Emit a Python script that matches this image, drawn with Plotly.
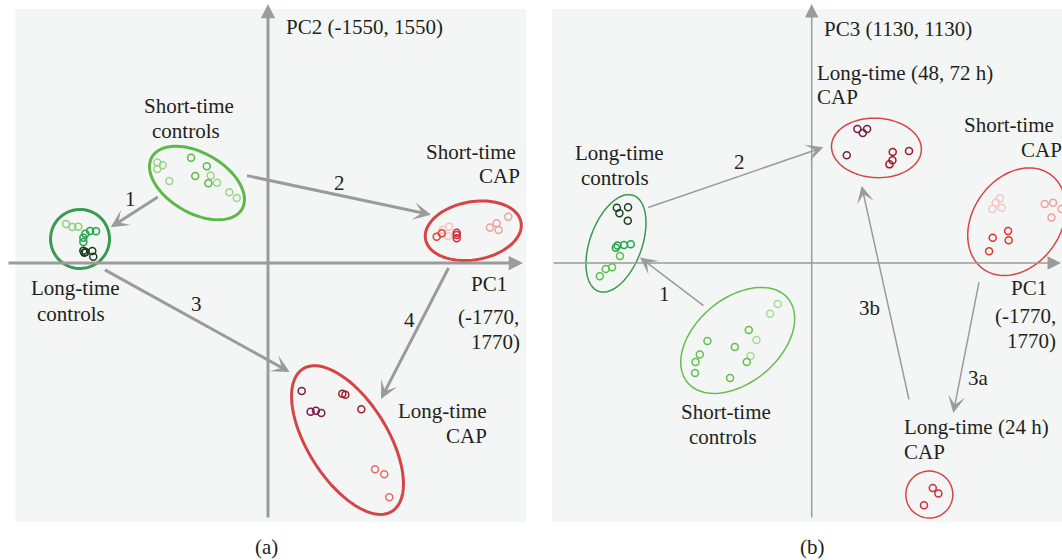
import numpy as np
import plotly.graph_objects as go

W, H = 1062, 560
GRAY = "#9b9b9b"
TXT = "#231f20"
BG = "#f4f6f5"
FONT = "Liberation Serif"

# ---------------- Panel (a): PC1 vs PC2 scores ----------------
a_stc_light_pc1 = [-768, -731, -768, -685, -398, -354, -269, -217]
a_stc_light_pc2 = [610, 594, 571, 498, 531, 488, 430, 395]
a_stc_mid_pc1 = [-534, -425, -505, -414]
a_stc_mid_pc2 = [640, 588, 529, 484]

a_ltc_light_pc1 = [-1402, -1358, -1317]
a_ltc_light_pc2 = [237, 219, 221]
a_ltc_mid_pc1 = [-1235, -1194, -1268, -1282, -1282]
a_ltc_mid_pc2 = [194, 193, 178, 154, 128]
a_ltc_dark_pc1 = [-1282, -1265, -1220, -1213, -1275]
a_ltc_dark_pc2 = [75, 67, 73, 38, 63]

a_stcap_red_pc1 = [1171, 1206]
a_stcap_red_pc2 = [160, 181]
a_stcap_crim_pc1 = [1310, 1310, 1310]
a_stcap_crim_pc2 = [184, 170, 150]
a_stcap_pale_pc1 = [1258, 1213, 1251]
a_stcap_pale_pc2 = [221, 201, 164]
a_stcap_pink_pc1 = [1668, 1587, 1541, 1601]
a_stcap_pink_pc2 = [281, 241, 215, 201]

a_ltcap_purple_pc1 = [234, 296, 333, 370]
a_ltcap_purple_pc2 = [-778, -904, -898, -912]
a_ltcap_dkred_pc1 = [516, 537, 648]
a_ltcap_dkred_pc2 = [-794, -800, -889]
a_ltcap_salmon_pc1 = [743, 807, 842]
a_ltcap_salmon_pc2 = [-1254, -1284, -1424]

# ---------------- Panel (b): PC1 vs PC3 scores ----------------
b_ltc_dark_pc1 = [-1353, -1335, -1275, -1277]
b_ltc_dark_pc3 = [245, 220, 247, 187]
b_ltc_mid_pc1 = [-1360, -1349, -1303, -1256]
b_ltc_mid_pc3 = [68, 78, 80, 83]
b_ltc_light_pc1 = [-1331, -1430, -1386, -1471]
b_ltc_light_pc3 = [31, -27, -19, -59]

b_stc_light_pc1 = [-236, -289, -384, -425]
b_stc_light_pc3 = [-182, -225, -341, -412]
b_stc_mid_pc1 = [-437, -724, -534, -777, -807, -810, -451, -567]
b_stc_mid_pc3 = [-297, -346, -372, -405, -439, -487, -439, -510]

b_lt4872_purple_pc1 = [317, 354, 384, 243]
b_lt4872_purple_pc3 = [594, 576, 594, 477]
b_lt4872_dkred_pc1 = [562, 675, 560, 539]
b_lt4872_dkred_pc3 = [492, 496, 455, 437]

b_stcap_pale_pc1 = [1307, 1277, 1254, 1319]
b_stcap_pale_pc3 = [287, 267, 239, 245]
b_stcap_pink_pc1 = [1617, 1675, 1664, 1735]
b_stcap_pink_pc3 = [261, 267, 202, 239]
b_stcap_red_pc1 = [1363, 1256, 1367, 1231]
b_stcap_red_pc3 = [142, 112, 101, 52]

b_lt24_pc1 = [840, 879, 779]
b_lt24_pc3 = [-997, -1021, -1073]

# axis ranges
A_X = [-1805, 1805]
A_Y = [-1580, 1580]
B_X = [-1803, 1737]
B_Y = [-1152, 1152]

fig = go.Figure()

def pts(x, y, color, panel):
    fig.add_trace(go.Scatter(
        x=x, y=y, mode="markers",
        xaxis="x" if panel == "a" else "x2",
        yaxis="y" if panel == "a" else "y2",
        marker=dict(symbol="circle-open", size=7, color=color, line=dict(width=1.5)),
        showlegend=False, hoverinfo="skip"))

pts(a_stc_light_pc1, a_stc_light_pc2, "#9bd48a", "a")
pts(a_stc_mid_pc1, a_stc_mid_pc2, "#5cb84a", "a")
pts(a_ltc_light_pc1, a_ltc_light_pc2, "#8fce7e", "a")
pts(a_ltc_mid_pc1, a_ltc_mid_pc2, "#22a54a", "a")
pts(a_ltc_dark_pc1, a_ltc_dark_pc2, "#1d3d22", "a")
pts(a_stcap_pale_pc1, a_stcap_pale_pc2, "#f6c3c3", "a")
pts(a_stcap_pink_pc1, a_stcap_pink_pc2, "#f0a0a0", "a")
pts(a_stcap_red_pc1, a_stcap_red_pc2, "#ee3a2a", "a")
pts(a_stcap_crim_pc1, a_stcap_crim_pc2, "#d42a3a", "a")
pts(a_ltcap_purple_pc1, a_ltcap_purple_pc2, "#7b1a4c", "a")
pts(a_ltcap_dkred_pc1, a_ltcap_dkred_pc2, "#a01a2c", "a")
pts(a_ltcap_salmon_pc1, a_ltcap_salmon_pc2, "#e66a6a", "a")

pts(b_ltc_dark_pc1, b_ltc_dark_pc3, "#1d3d22", "b")
pts(b_ltc_mid_pc1, b_ltc_mid_pc3, "#22a54a", "b")
pts(b_ltc_light_pc1, b_ltc_light_pc3, "#56c04a", "b")
pts(b_stc_light_pc1, b_stc_light_pc3, "#a6db97", "b")
pts(b_stc_mid_pc1, b_stc_mid_pc3, "#62bf4c", "b")
pts(b_lt4872_purple_pc1, b_lt4872_purple_pc3, "#7b1a4c", "b")
pts(b_lt4872_dkred_pc1, b_lt4872_dkred_pc3, "#a01a2c", "b")
pts(b_stcap_pale_pc1, b_stcap_pale_pc3, "#f7c5c5", "b")
pts(b_stcap_pink_pc1, b_stcap_pink_pc3, "#f0a0a0", "b")
pts(b_stcap_red_pc1, b_stcap_red_pc3, "#e8302a", "b")
pts(b_lt24_pc1, b_lt24_pc3, "#d62a3a", "b")

# ----- layout geometry (pixels) -----
def px(v):
    return v / W

def py(v):
    return 1 - v / H

shapes = [
    dict(type="rect", xref="paper", yref="paper", x0=px(15.5), x1=px(526), y0=py(522), y1=py(9),
         fillcolor=BG, line=dict(width=0), layer="below"),
    dict(type="rect", xref="paper", yref="paper", x0=px(552), x1=1.0, y0=py(522), y1=py(9),
         fillcolor=BG, line=dict(width=0), layer="below"),
]

# units per pixel for each panel
A_SX = (A_X[1] - A_X[0]) / 520.0
A_SY = (A_Y[1] - A_Y[0]) / 520.0
B_SX = (B_X[1] - B_X[0]) / 510.0
B_SY = (B_Y[1] - B_Y[0]) / 520.0

def ellipse(cx, cy, a, b, ang, color, width, panel):
    sx, sy = (A_SX, A_SY) if panel == "a" else (B_SX, B_SY)
    t = np.linspace(0, 2 * np.pi, 90)
    th = np.deg2rad(ang)
    dx = a * np.cos(t) * np.cos(th) - b * np.sin(t) * np.sin(th)
    dy = a * np.cos(t) * np.sin(th) + b * np.sin(t) * np.cos(th)
    xs = cx + dx * sx
    ys = cy + dy * sy
    path = "M " + " L ".join(f"{x:.2f},{y:.2f}" for x, y in zip(xs, ys)) + " Z"
    shapes.append(dict(type="path", path=path,
                       xref="x" if panel == "a" else "x2",
                       yref="y" if panel == "a" else "y2",
                       line=dict(color=color, width=width)))

GREEN_L = "#5cb947"
GREEN_D = "#3a9a50"
RED = "#d64545"
ellipse(-493, 486, 52, 30, -30, GREEN_L, 3, "a")
ellipse(-1305, 146, 29.5, 29.5, 0, GREEN_D, 3, "a")
ellipse(1425, 196, 48.5, 29, 10, RED, 3, "a")
ellipse(552, -1076, 84, 40, -58, RED, 3, "a")

ellipse(-1359, 87, 51, 26, 70, GREEN_D, 1.5, "b")
ellipse(-514, -343, 65.5, 42, 40, "#62bf4c", 1.5, "b")
ellipse(449, 510, 45, 29.7, -3, RED, 1.5, "b")
ellipse(1423, 183, 58, 44, 55, RED, 1.5, "b")
ellipse(816, -1026, 23.5, 23.5, 0, RED, 1.5, "b")

ann = []

def arrow(tail, tip, width, size, head):
    ann.append(dict(x=px(tip[0]), y=py(tip[1]), xref="paper", yref="paper",
                    ax=tail[0] - tip[0], ay=tail[1] - tip[1], axref="pixel", ayref="pixel",
                    showarrow=True, arrowhead=head, arrowsize=size, arrowwidth=width,
                    arrowcolor=GRAY, text="", standoff=0))

def label(s, x, y, anchor="center", size=21):
    ann.append(dict(x=px(x), y=py(y), xref="paper", yref="paper", text=s, showarrow=False,
                    xanchor=anchor, yanchor="middle", borderpad=0, borderwidth=0,
                    font=dict(family=FONT, size=size, color=TXT)))

# axes (a)
arrow((7, 263), (523, 263), 3, 0.95, 2)
arrow((268, 519), (268, 4), 3, 0.95, 2)
# axes (b)
arrow((552, 263), (1061, 263), 1.5, 1.8, 2)
arrow((811.7, 519), (811.7, 4), 1.5, 1.8, 2)

# transitions (a)
arrow((159.3, 196), (110.7, 227.3), 3, 1.0, 3)
arrow((245.5, 175.3), (431, 214.7), 3, 1.0, 3)
arrow((103.4, 269), (289.7, 372), 3, 1.0, 3)
arrow((449.3, 266.5), (381, 399), 3, 1.0, 3)
# transitions (b)
arrow((705, 306.8), (640, 257.4), 1.5, 1.9, 3)
arrow((646.7, 208), (823.3, 147.3), 1.5, 1.9, 3)
arrow((979.3, 280.7), (953.3, 413), 1.5, 1.9, 3)
arrow((909.3, 401), (861.7, 186), 1.5, 1.9, 3)

# labels (a)
label("PC2 (-1550, 1550)", 286, 26.8, "left")
label("Short-time", 189, 105.5)
label("controls", 186, 130.6)
label("Short-time", 516, 152, "right")
label("CAP", 520, 176.4, "right")
label("Long-time", 75, 288)
label("controls", 70.6, 314)
label("PC1", 488.6, 284.4)
label("(-1770,", 488.5, 316.6)
label("1770)", 495, 341.7)
label("Long-time", 442, 411.4)
label("CAP", 466, 435.8)
label("1", 130, 198.6)
label("2", 339.7, 183.2)
label("3", 196.6, 304)
label("4", 409.3, 320)
label("(a)", 266, 547.4)

# labels (b)
label("PC3 (1130, 1130)", 824, 28.6, "left")
label("Long-time (48, 72 h)", 816.5, 73.3, "left")
label("CAP", 816.5, 97.2, "left")
label("Short-time", 964, 125, "left")
label("CAP", 1020.5, 150, "left")
label("Long-time", 619.5, 153)
label("controls", 615, 177.7)
label("Short-time", 726, 411.9)
label("controls", 723, 437)
label("PC1", 1029, 287.8)
label("(-1770,", 1025, 316.4)
label("1770)", 1031.5, 341.4)
label("Long-time (24 h)", 903.5, 427.2, "left")
label("CAP", 903.5, 452.3, "left")
label("1", 664, 294)
label("2", 739, 161.6)
label("3a", 978.3, 378.3)
label("3b", 869.3, 307.5)
label("(b)", 812.7, 547)

hidden = dict(showgrid=False, zeroline=False, showticklabels=False, showline=False,
              ticks="", fixedrange=True)

fig.update_layout(
    width=W, height=H,
    margin=dict(l=0, r=0, t=0, b=0),
    paper_bgcolor="white", plot_bgcolor="rgba(0,0,0,0)",
    xaxis=dict(domain=[px(8), px(528)], range=A_X, anchor="y", **hidden),
    yaxis=dict(domain=[py(523), py(3)], range=A_Y, anchor="x", **hidden),
    xaxis2=dict(domain=[px(552), 1.0], range=B_X, anchor="y2", **hidden),
    yaxis2=dict(domain=[py(523), py(3)], range=B_Y, anchor="x2", **hidden),
    shapes=shapes, annotations=ann,
)

fig.write_html(
    "out.html",
    config={"displayModeBar": False, "staticPlot": True},
    post_script="document.body.style.margin='0';document.body.style.overflow='hidden';",
)
